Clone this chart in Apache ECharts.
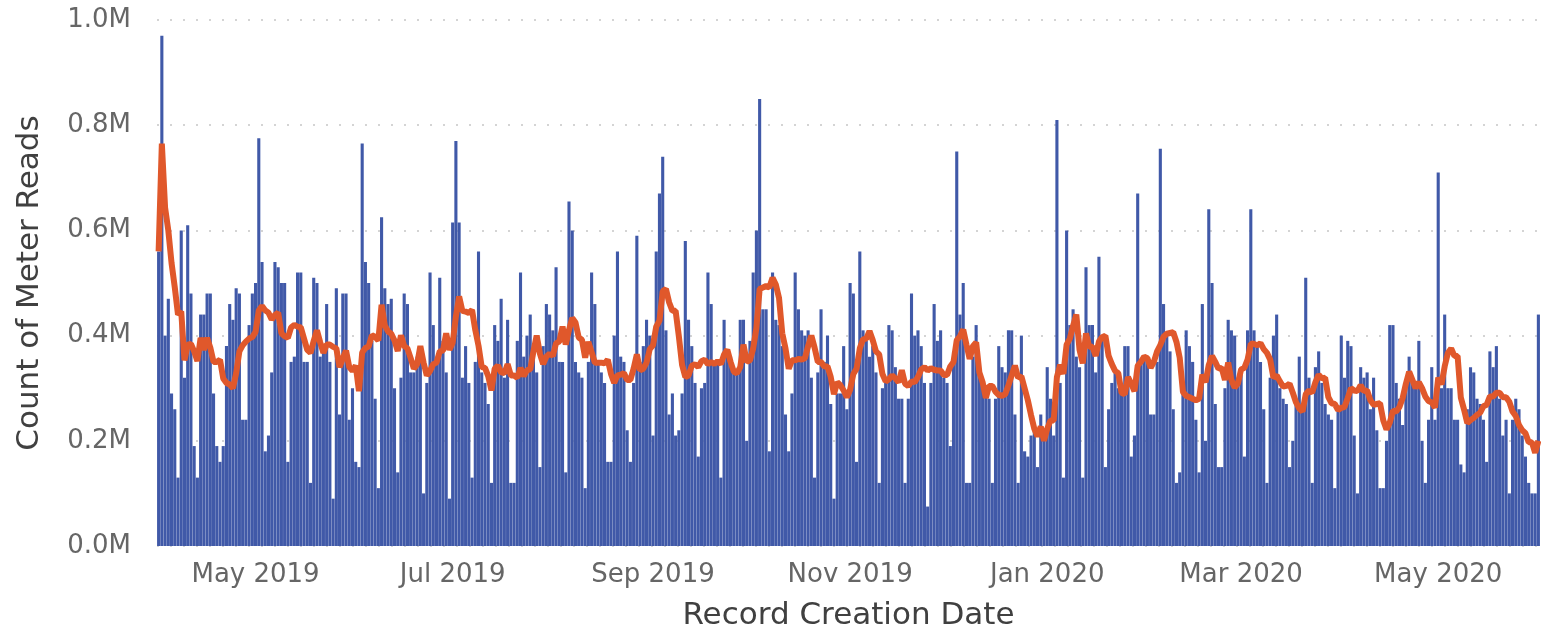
<!DOCTYPE html>
<html>
<head>
<meta charset="utf-8">
<script src="https://cdn.jsdelivr.net/npm/echarts@6/dist/echarts.min.js"></script>
<style>
  html, body { margin: 0; padding: 0; background: #ffffff; }
  #chart { width: 1541px; height: 636px; }
</style>
</head>
<body>
<div id="chart"></div>
<script>
// First date of the daily series (one bar per day)
const startDate = '2019-04-01';

// Daily count of meter reads, in millions, Apr 1 2019 -> Jun 1 2020
const readsAprMay2019 = [.56,.97,.40,.47,.29,.26,.13, .60,.32,.61,.48,.19,.13,.44, .44,.48,.48,.29,.19,.16,.19,
  .38,.46,.43,.49,.48,.24,.24, .42,.48,.50,.775,.54,.18,.21];
const readsMayJun2019 = [.33,.54,.53,.50,.50,.16,.35,.36,.52,.52,.35,.35,.12,.51,.50,.36,.38,.46,.35,.09,.49,.25,
  .48,.48,.24,.30,.16,.15,.765,.54,.50,.39,.28,.11,.625,.49];
const readsJunJul2019 = [.46,.47,.30,.14,.32,.48,.46,.33,.33,.36,.38,.10,.31,.52,.42,.35,.51,.39,.33,.09,.615,.77,
  .615,.32,.38,.31,.13,.35,.56,.33,.31,.27,.12,.42,.39,.47];
const readsJulAug2019 = [.32,.43,.12,.12,.39,.52,.36,.40,.44,.36,.33,.15,.38,.46,.44,.41,.53,.35,.35,.14,.655,.60,
  .35,.33,.32,.11,.35,.52,.46,.35,.33,.31,.16,.16,.40,.56];
const readsAugSep2019 = [.36,.35,.22,.16,.31,.59,.35,.38,.43,.40,.21,.56,.67,.74,.41,.25,.29,.21,.22,.29,.58,.43,
  .38,.31,.17,.30,.31,.52,.46,.35,.35,.13,.43,.37,.36,.33];
const readsSepOct2019 = [.33,.43,.43,.20,.39,.52,.60,.85,.45,.45,.18,.52,.43,.42,.38,.25,.18,.29,.52,.45,.41,.40,
  .41,.32,.13,.33,.45,.35,.40,.27,.09,.29,.29,.38,.26,.50];
const readsNovDec2019 = [.48,.16,.56,.41,.39,.36,.38,.33,.12,.30,.31,.42,.41,.34,.28,.28,.12,.28,.48,.40,.41,.38,
  .31,.075,.31,.46,.39,.41,.32,.31,.19,.37,.75,.44,.50];
const readsDecJan2020 = [.12,.12,.36,.42,.35,.31,.29,.28,.12,.28,.38,.34,.33,.41,.41,.25,.12,.40,.18,.17,.21,.23,
  .15,.25,.21,.34,.28,.21,.81,.31,.13,.60,.42,.45,.36];
const readsJanFeb2020 = [.34,.13,.53,.42,.42,.33,.55,.40,.15,.26,.31,.33,.30,.29,.38,.38,.17,.21,.67,.35,.36,.36,
  .25,.25,.35,.755,.46,.40,.37,.26,.12,.14,.30,.41,.38,.35];
const readsFebMar2020 = [.24,.14,.46,.20,.64,.50,.27,.15,.15,.30,.43,.41,.40,.32,.34,.17,.41,.64,.41,.38,.35,.26,
  .12,.32,.40,.44,.30,.28,.27,.15,.20,.27,.36,.26,.51,.32];
const readsMarApr2020 = [.12,.34,.37,.31,.27,.25,.24,.11,.26,.40,.32,.39,.38,.21,.10,.34,.32,.33,.26,.32,.22,.11,
  .11,.20,.42,.42,.31,.28,.23,.30,.36,.31,.31,.39,.20];
const readsAprJun2020 = [.12,.24,.34,.24,.71,.30,.44,.30,.30,.24,.24,.155,.14,.26,.34,.33,.28,.27,.24,.16,.37,.34,
  .38,.28,.21,.24,.10,.24,.28,.26,.21,.17,.12,.10,.10,.44];

// Rolling window (days) of the orange average line
const averageWindow = 7;

// Month labels shown on the x axis
const tickLabels = ['May 2019', 'Jul 2019', 'Sep 2019', 'Nov 2019', 'Jan 2020', 'Mar 2020', 'May 2020'];
// Y axis ticks (millions)
const yTicks = [0, 0.2, 0.4, 0.6, 0.8, 1.0];

const reads = [].concat(readsAprMay2019, readsMayJun2019, readsJunJul2019, readsJulAug2019,
  readsAugSep2019, readsSepOct2019, readsNovDec2019, readsDecJan2020, readsJanFeb2020,
  readsFebMar2020, readsMarApr2020, readsAprJun2020);

const monthNames = ['Jan','Feb','Mar','Apr','May','Jun','Jul','Aug','Sep','Oct','Nov','Dec'];
const categories = [];
{
  const d0 = new Date(startDate + 'T00:00:00Z');
  for (let i = 0; i < reads.length; i++) {
    const d = new Date(d0.getTime() + i * 86400000);
    categories.push(d.toISOString().slice(0, 10));
  }
}
function monthLabel(iso) {
  const y = iso.slice(0, 4), m = +iso.slice(5, 7);
  return monthNames[m - 1] + ' ' + y;
}
function isTick(iso) {
  return iso.slice(8, 10) === '01' && tickLabels.indexOf(monthLabel(iso)) >= 0;
}

// trailing average of the daily reads (as drawn by the source chart)
const average = reads.map((v, i) => {
  const s = Math.max(0, i - averageWindow + 1);
  const win = reads.slice(s, i + 1);
  return +(win.reduce((a, b) => a + b, 0) / win.length).toFixed(4);
});

const chart = echarts.init(document.getElementById('chart'), null, { renderer: 'canvas' });
const fontFamily = '"DejaVu Sans", sans-serif';

chart.setOption({
  animation: false,
  backgroundColor: '#ffffff',
  grid: { left: 157, right: 1, top: 20, bottom: 90, containLabel: false },
  xAxis: {
    type: 'category',
    data: categories,
    boundaryGap: true,
    name: 'Record Creation Date',
    nameLocation: 'middle',
    nameGap: 54,
    nameTextStyle: { color: '#404040', fontSize: 31, fontFamily: fontFamily },
    axisLine: { show: false },
    axisTick: { show: false },
    axisLabel: {
      color: '#666666',
      fontSize: 26,
      fontFamily: fontFamily,
      margin: 16,
      interval: (idx, val) => isTick(val),
      formatter: (val) => monthLabel(val)
    },
    splitLine: { show: false }
  },
  yAxis: {
    type: 'value',
    min: yTicks[0],
    max: yTicks[yTicks.length - 1],
    interval: 0.2,
    name: 'Count of Meter Reads',
    nameLocation: 'middle',
    nameGap: 112,
    nameTextStyle: { color: '#404040', fontSize: 31, fontFamily: fontFamily },
    axisLine: { show: false },
    axisTick: { show: false },
    axisLabel: {
      color: '#666666',
      fontSize: 26,
      fontFamily: fontFamily,
      margin: 26,
      formatter: (v) => v.toFixed(1) + 'M'
    },
    splitLine: {
      show: true,
      lineStyle: { color: '#d4d4d4', width: 2, type: [2, 11] }
    }
  },
  series: [
    {
      name: 'Count of Meter Reads',
      type: 'bar',
      data: reads,
      barCategoryGap: '4%',
      itemStyle: { color: '#4059A8' },
      z: 2
    },
    {
      name: 'Average',
      type: 'line',
      data: average,
      symbol: 'none',
      smooth: false,
      lineStyle: { color: '#E0582B', width: 6 },
      z: 3
    }
  ]
});
</script>
</body>
</html>
